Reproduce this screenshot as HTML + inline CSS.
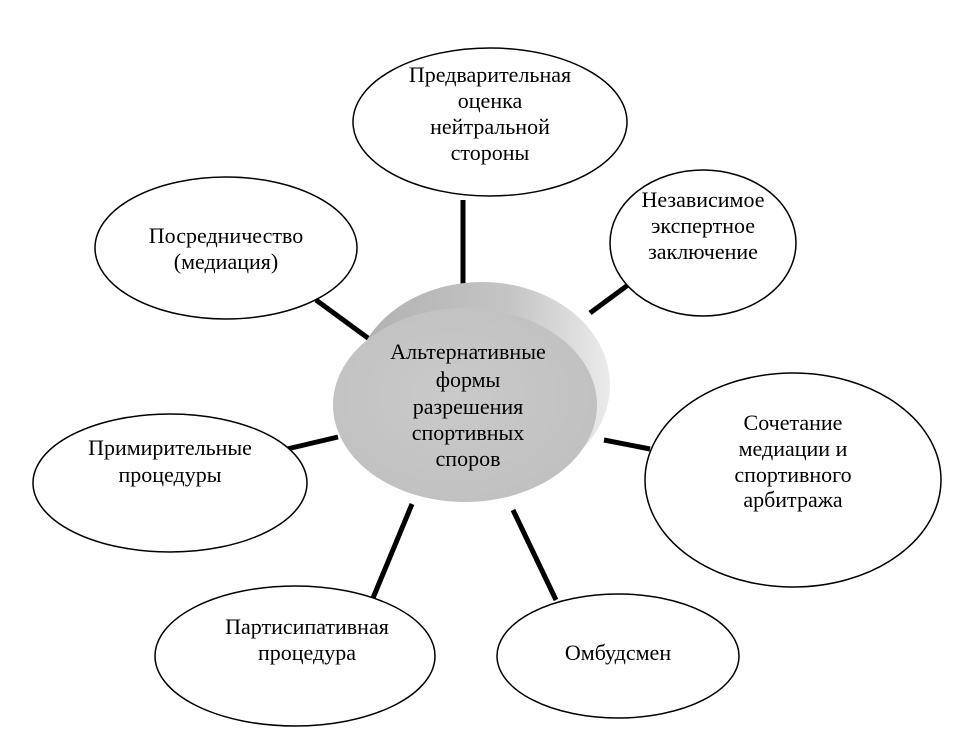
<!DOCTYPE html>
<html><head><meta charset="utf-8"><style>body{margin:0;background:#fff}</style></head><body>
<svg width="963" height="746" xmlns="http://www.w3.org/2000/svg" font-family="Liberation Serif, serif" font-size="22" text-anchor="middle" fill="#000">
<defs>
<linearGradient id="side" x1="0" y1="0" x2="1" y2="0"><stop offset="0" stop-color="#b0b0b0"/><stop offset="0.6" stop-color="#c4c4c4"/><stop offset="1" stop-color="#ebebeb"/></linearGradient>
<radialGradient id="face" cx="0.45" cy="0.45" r="0.6"><stop offset="0" stop-color="#cacaca"/><stop offset="1" stop-color="#c0c0c0"/></radialGradient>
</defs>
<g stroke="#000" stroke-width="5">
<line x1="463" y1="200" x2="463" y2="284"/>
<line x1="628" y1="285" x2="590" y2="313"/>
<line x1="316" y1="300" x2="372" y2="341"/>
<line x1="287" y1="449" x2="338" y2="437"/>
<line x1="604" y1="440" x2="650" y2="449"/>
<line x1="373" y1="598" x2="412" y2="504"/>
<line x1="513" y1="510" x2="556" y2="600"/>
</g>
<g fill="#fff" stroke="#000" stroke-width="1.5">
<ellipse cx="490" cy="122" rx="137" ry="74"/>
<ellipse cx="703" cy="243" rx="93" ry="73"/>
<ellipse cx="226" cy="248" rx="131" ry="71"/>
<ellipse cx="170" cy="483" rx="137" ry="69"/>
<ellipse cx="793" cy="480" rx="148" ry="107"/>
<ellipse cx="295" cy="656" rx="140" ry="70"/>
<ellipse cx="618" cy="656" rx="121" ry="62"/>
</g>
<ellipse cx="482" cy="385" rx="128" ry="103" fill="url(#side)"/>
<ellipse cx="465" cy="405" rx="132" ry="97" fill="url(#face)"/>
<text x="490" y="82">Предварительная</text><text x="490" y="108">оценка</text><text x="490" y="134">нейтральной</text><text x="490" y="160">стороны</text>
<text x="703" y="207">Независимое</text><text x="703" y="233">экспертное</text><text x="703" y="259">заключение</text>
<text x="226" y="243">Посредничество</text><text x="226" y="269">(медиация)</text>
<text x="170" y="455">Примирительные</text><text x="170" y="482">процедуры</text>
<text x="793" y="430">Сочетание</text><text x="793" y="456">медиации и</text><text x="793" y="482">спортивного</text><text x="793" y="507">арбитража</text>
<text x="307" y="634">Партисипативная</text><text x="307" y="660">процедура</text>
<text x="618" y="660">Омбудсмен</text>
<text x="468" y="359">Альтернативные</text><text x="468" y="387">формы</text><text x="468" y="414">разрешения</text><text x="468" y="440">спортивных</text><text x="468" y="466">споров</text>
</svg>
</body></html>
